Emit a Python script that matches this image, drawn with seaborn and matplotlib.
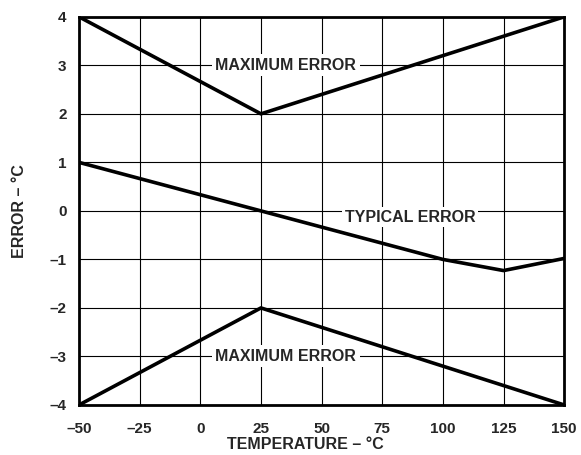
import pandas as pd
import matplotlib.pyplot as plt
import seaborn as sns

# error curves
temp_max = [-50, 25, 150]
max_upper = [4, 2, 4]
max_lower = [-4, -2, -4]
temp_typ = [-50, 25, 100, 125, 150]
typ_err = [1, 0, -1, -1.23, -0.98]

xticks = [-50, -25, 0, 25, 50, 75, 100, 125, 150]
xticklabels = ['–50', '–25', '0', '25', '50', '75', '100', '125', '150']
yticks = [-4, -3, -2, -1, 0, 1, 2, 3, 4]
yticklabels = ['–4', '–3', '–2', '–1', '0', '1', '2', '3', '4']

sns.set_style('white')
plt.rcParams['font.family'] = ['Liberation Sans', 'DejaVu Sans']
plt.rcParams['font.weight'] = 'bold'

df = pd.concat([
    pd.DataFrame({'t': temp_max, 'e': max_upper, 'curve': 'upper'}),
    pd.DataFrame({'t': temp_max, 'e': max_lower, 'curve': 'lower'}),
    pd.DataFrame({'t': temp_typ, 'e': typ_err, 'curve': 'typ'}),
])

fig, ax = plt.subplots(figsize=(5.81, 4.55), dpi=100)
fig.subplots_adjust(left=0.136, right=0.971, top=0.963, bottom=0.11)

ax.set_xticks(xticks)
ax.set_yticks(yticks)
ax.grid(True, color='black', linewidth=0.8)
ax.set_axisbelow(True)

sns.lineplot(data=df, x='t', y='e', units='curve', estimator=None,
             color='black', linewidth=2.6, ax=ax, zorder=3)

ax.set_xlim(-50, 150)
ax.set_ylim(-4, 4)
ax.set_xticklabels(xticklabels, fontsize=11, fontweight='bold')
ax.set_yticklabels(yticklabels, fontsize=11, fontweight='bold')
ax.tick_params(axis='x', length=0, pad=12)
ax.tick_params(axis='y', length=0, pad=9)
for s in ax.spines.values():
    s.set_linewidth(2)
    s.set_color('black')

ax.set_xlabel('TEMPERATURE – °C', fontsize=11.5, fontweight='bold', labelpad=1)
ax.xaxis.label.set_x(0.466)
ax.set_ylabel('ERROR – °C', fontsize=11.5, fontweight='bold', labelpad=16)

box = dict(facecolor='white', edgecolor='none', pad=2.5)
ax.text(35.3, 3.0, 'MAXIMUM ERROR', ha='center', va='center', fontsize=11.5,
        fontweight='bold', bbox=box, zorder=4)
ax.text(35.3, -3.0, 'MAXIMUM ERROR', ha='center', va='center', fontsize=11.5,
        fontweight='bold', bbox=box, zorder=4)
ax.text(86.5, -0.13, 'TYPICAL ERROR', ha='center', va='center', fontsize=11.5,
        fontweight='bold', bbox=dict(facecolor='white', edgecolor='none', pad=2),
        zorder=4)

fig.savefig('out.png', dpi=100)
